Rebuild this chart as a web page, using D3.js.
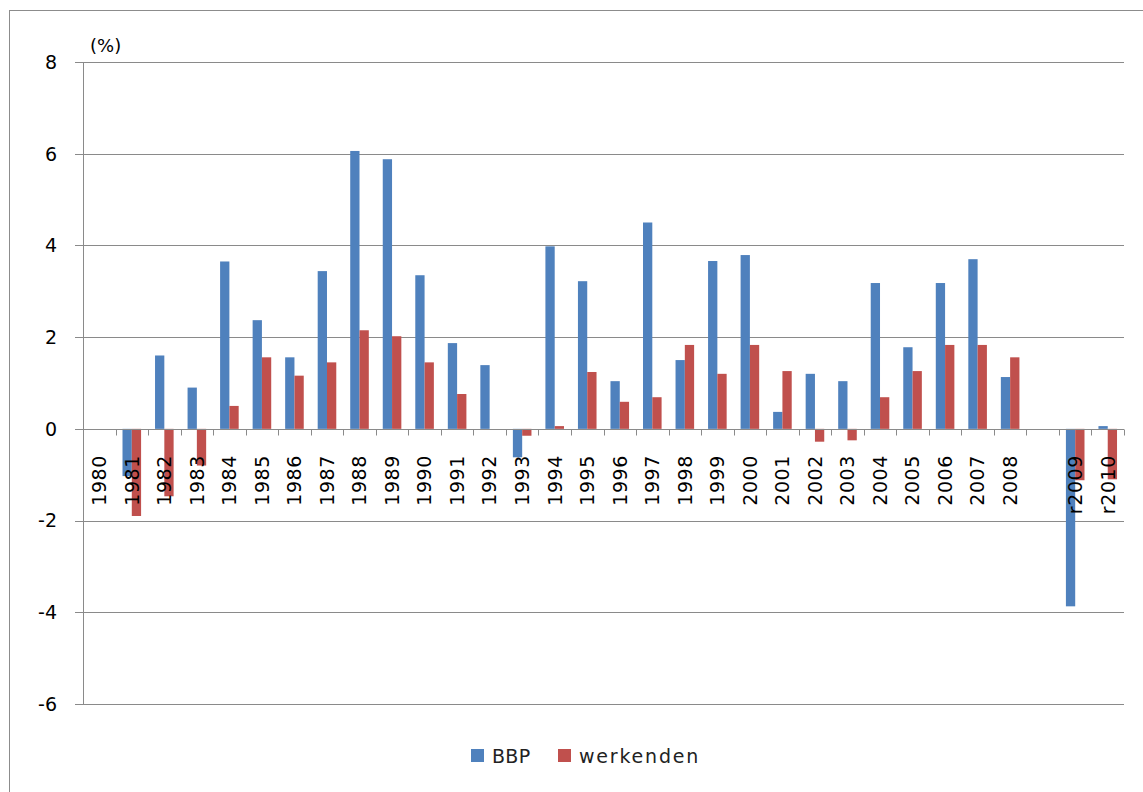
<!DOCTYPE html>
<html>
<head>
<meta charset="utf-8">
<script src="https://cdn.jsdelivr.net/npm/d3@7"></script>
<style>
  body { margin: 0; background: #fff; }
  text { font-family: "DejaVu Sans", sans-serif; }
</style>
</head>
<body>
<div id="chart"></div>
<script>
const years = ["1980","1981","1982","1983","1984","1985","1986","1987","1988","1989",
  "1990","1991","1992","1993","1994","1995","1996","1997","1998","1999",
  "2000","2001","2002","2003","2004","2005","2006","2007","2008","","r2009","r2010"]
const bbp = [0,-1.03,1.6,0.9,3.65,2.37,1.56,3.44,6.06,5.88,
  3.35,1.87,1.39,-0.62,3.98,3.22,1.04,4.5,1.5,3.66,
  3.79,0.37,1.2,1.04,3.18,1.78,3.18,3.7,1.13,null,-3.87,0.06]
const werkenden = [0,-1.9,-1.47,-0.8,0.5,1.56,1.16,1.45,2.15,2.02,
  1.45,0.76,0,-0.15,0.06,1.24,0.59,0.69,1.83,1.2,
  1.83,1.26,-0.28,-0.25,0.69,1.26,1.83,1.83,1.56,null,-1.12,-1.1]
const yTicks = [-6,-4,-2,0,2,4,6,8]
const seriesNames = ["BBP", "werkenden"]
const colors = ["#4F81BD", "#C0504D"]

const width = 1143, height = 792
const plotLeft = 83, plotRight = 1124, plotTop = 62, plotBottom = 704

const svg = d3.select("#chart").append("svg")
    .attr("width", width)
    .attr("height", height)

// outer chart border
svg.append("rect")
    .attr("x", 9.5).attr("y", 10.5)
    .attr("width", 1150).attr("height", 800)
    .attr("fill", "none").attr("stroke", "#8c8c8c")

const y = d3.scaleLinear().domain([-6, 8]).range([plotBottom, plotTop])
const x = d3.scaleBand().domain(d3.range(years.length)).range([plotLeft, plotRight])
// gap width 150% like excel
const barW = x.bandwidth() / 3.5
const gap = (x.bandwidth() - 2 * barW) / 2

// gridlines + y ticks
svg.append("g").selectAll("line")
    .data(yTicks)
    .enter().append("line")
    .attr("x1", plotLeft - 8).attr("x2", plotRight)
    .attr("y1", d => Math.round(y(d)) + 0.5)
    .attr("y2", d => Math.round(y(d)) + 0.5)
    .attr("stroke", "#8a8a8a")

svg.append("g").selectAll("text")
    .data(yTicks)
    .enter().append("text")
    .attr("x", 57)
    .attr("y", d => y(d))
    .attr("dy", "0.36em")
    .attr("text-anchor", "end")
    .attr("font-size", 19)
    .attr("fill", "#000")
    .text(d => d)

svg.append("text")
    .attr("x", 90).attr("y", 52)
    .attr("font-size", 18)
    .text("(%)")

// bars
const rows = years.map((yr, i) => ({ i: i, vals: [bbp[i], werkenden[i]] }))
const groups = svg.append("g").selectAll("g")
    .data(rows)
    .enter().append("g")

groups.selectAll("rect")
    .data(d => d.vals.map((v, s) => ({ i: d.i, s: s, v: v })).filter(d => d.v))
    .enter().append("rect")
    .attr("x", d => x(d.i) + gap + d.s * barW)
    .attr("width", barW)
    .attr("y", d => y(Math.max(0, d.v)))
    .attr("height", d => Math.abs(y(d.v) - y(0)))
    .attr("fill", d => colors[d.s])

// y axis line
svg.append("line")
    .attr("x1", plotLeft + 0.5).attr("x2", plotLeft + 0.5)
    .attr("y1", plotTop).attr("y2", plotBottom)
    .attr("stroke", "#8a8a8a")

// category axis
const zeroY = Math.round(y(0)) + 0.5
svg.append("line")
    .attr("x1", plotLeft).attr("x2", plotRight)
    .attr("y1", zeroY).attr("y2", zeroY)
    .attr("stroke", "#8a8a8a")

svg.append("g").selectAll("line")
    .data(d3.range(years.length + 1))
    .enter().append("line")
    .attr("x1", d => Math.round(plotLeft + d * x.step()) + 0.5)
    .attr("x2", d => Math.round(plotLeft + d * x.step()) + 0.5)
    .attr("y1", zeroY).attr("y2", zeroY + 6)
    .attr("stroke", "#8a8a8a")

svg.append("g").selectAll("text")
    .data(years)
    .enter().append("text")
    .attr("transform", (d, i) => "translate(" + (x(i) + x.bandwidth() / 2) + ",455) rotate(-90)")
    .attr("dy", "0.36em")
    .attr("text-anchor", "end")
    .attr("font-size", 19)
    .attr("letter-spacing", 0.6)
    .attr("fill", "#000")
    .text(d => d)

// legend
const legendX = [471, 558]
const legend = svg.append("g").selectAll("g")
    .data(seriesNames)
    .enter().append("g")
    .attr("transform", (d, i) => "translate(" + legendX[i] + ",749)")

legend.append("rect")
    .attr("width", 13).attr("height", 13)
    .attr("fill", (d, i) => colors[i])

legend.append("text")
    .attr("x", 21).attr("y", 7)
    .attr("dy", "0.36em")
    .attr("font-size", 19)
    .attr("letter-spacing", (d, i) => i ? 1.8 : 0.3)
    .attr("fill", "#222")
    .text(d => d)
</script>
</body>
</html>
